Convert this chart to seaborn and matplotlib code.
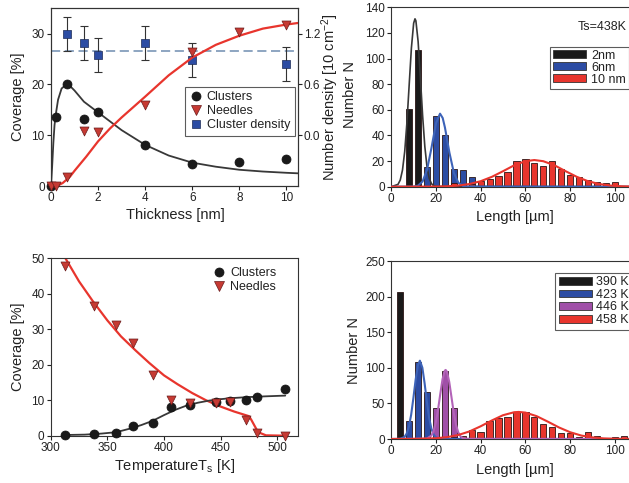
import matplotlib
matplotlib.use("Agg")
import matplotlib.pyplot as plt
import seaborn as sns
from matplotlib.patches import Patch
from matplotlib.lines import Line2D

# ---------------- coverage vs. thickness (top left) ----------------
thick_clusters = [0, 0.2, 0.7, 1.4, 2, 4, 6, 8, 10]
cov_clusters = [0, 13.6, 20.0, 13.1, 14.5, 8.1, 4.3, 4.8, 5.4]
thick_needles = [0, 0.2, 0.7, 1.4, 2, 4, 6, 8, 10]
cov_needles = [0, 0, 1.7, 10.8, 10.6, 16.0, 26.3, 30.3, 31.8]
thick_density = [0.7, 1.4, 2, 4, 6, 10]
density = [1.20, 1.09, 0.95, 1.09, 0.89, 0.84]
density_err = [0.20, 0.20, 0.20, 0.20, 0.20, 0.20]
density_mean = 1.0

fit_clusters_x = [0, 0.05, 0.1, 0.15, 0.2, 0.3, 0.45, 0.7, 1.0, 1.4, 2, 3, 4, 5, 6, 7, 8, 9, 10, 10.48]
fit_clusters_y = [0, 4.0, 8.5, 12.0, 14.0, 17.0, 19.2, 20.2, 18.8, 16.6, 14.5, 11.0, 8.1, 6.0, 4.6, 3.8, 3.2, 2.85, 2.6, 2.5]
fit_needles_x = [0.25, 0.5, 0.8, 1.0, 1.5, 2, 2.5, 3, 4, 5, 6, 7, 8, 9, 10, 10.48]
fit_needles_y = [0, 0.6, 1.8, 3.0, 5.8, 8.8, 11.3, 13.5, 17.6, 21.8, 25.3, 27.8, 29.6, 31.0, 31.8, 32.1]

# ---------------- length histograms, Ts = 438 K (top right) ----------------
bins_2nm = [8, 12]
counts_2nm = [61, 107]
bins_6nm = [16, 20, 24, 28, 32, 36]
counts_6nm = [15.6, 55.4, 40.4, 13.8, 13.0, 7.3]
bins_10nm = [28, 32, 36, 40, 44, 48, 52, 56, 60, 64, 68, 72, 76, 80, 84, 88, 92, 96, 100]
counts_10nm = [3.0, 2.0, 2.0, 4.7, 6.0, 8.4, 11.7, 20.0, 21.4, 18.8, 16.2, 20.0, 13.8, 9.1, 7.3, 5.2, 3.4, 3.1, 3.9]

gauss_2nm_x = [0, 3, 4, 5, 6, 7, 8, 9, 10, 10.6, 11, 12, 13, 14, 15, 16, 17, 18, 19, 20, 108]
gauss_2nm_y = [0, 1.8, 5.2, 12.9, 27.4, 50.2, 79.5, 108.4, 127.6, 131, 129.5, 113.3, 85.5, 55.7, 31.3, 15.1, 6.3, 2.3, 0.7, 0.2, 0]
gauss_6nm_x = [0, 10, 12, 14, 16, 18, 20, 21.8, 23, 24, 26, 28, 30, 32, 34, 108]
gauss_6nm_y = [0, 0.1, 0.9, 4.1, 13.3, 30.5, 49.5, 57, 53.6, 46.2, 26.6, 10.8, 3.1, 0.6, 0.1, 0]
gauss_10nm_x = [0, 20, 25, 30, 35, 40, 45, 50, 55, 60, 64, 68, 73, 78, 83, 88, 93, 98, 103, 108]
gauss_10nm_y = [0, 0.1, 0.3, 0.9, 2.1, 4.3, 7.7, 12.1, 16.7, 19.9, 20.8, 19.9, 16.7, 12.1, 7.7, 4.3, 2.1, 0.9, 0.3, 0.1]

# ---------------- coverage vs. temperature (bottom left) ----------------
temps = [313, 338, 358, 373, 390, 406, 423, 446, 458, 472, 482, 507]
cov_clusters_T = [0.3, 0.5, 0.8, 2.8, 3.7, 8.2, 8.6, 9.4, 9.9, 10.0, 10.9, 13.3]
cov_needles_T = [47.8, 36.5, 31.3, 26.0, 17.0, 10.1, 9.2, 9.2, 9.5, 4.4, 0.9, 0.0]

fit_clusters_T_x = [313, 330, 345, 358, 370, 380, 390, 400, 410, 420, 430, 440, 450, 460, 475, 490, 507]
fit_clusters_T_y = [0.2, 0.3, 0.6, 1.0, 2.0, 3.0, 4.2, 5.8, 7.3, 8.5, 9.3, 9.9, 10.3, 10.6, 10.9, 11.1, 11.3]
fit_needles_T_x = [313, 325, 337, 350, 362, 375, 387, 400, 412, 425, 437, 450, 462, 475, 477, 483, 490, 507]
fit_needles_T_y = [50, 43.5, 38.0, 32.5, 28.0, 24.0, 20.5, 17.0, 14.5, 12.0, 10.0, 8.2, 6.8, 5.5, 4.5, 1.0, 0.1, 0]

# ---------------- length histograms vs. temperature (bottom right) ----------------
bins_390 = [4]
counts_390 = [207]
bins_423 = [8, 12, 16]
counts_423 = [25.7, 107.7, 66.5]
bins_446 = [20, 24, 28, 32]
counts_446 = [43, 96, 43, 1.5]
bins_458 = [28, 32, 36, 40, 44, 48, 52, 56, 60, 64, 68, 72, 76, 80, 84, 88, 92, 96, 100, 104]
counts_458 = [3.0, 4.0, 12.6, 10.3, 25.7, 30.0, 30.4, 38.4, 37.5, 31.4, 21.0, 16.4, 8.0, 8.9, 2.3, 9.4, 4.2, 0.5, 2.8, 4.2]

gauss_423_x = [0, 4, 6, 7, 8, 9, 10, 11, 12, 12.9, 14, 15, 16, 17, 18, 19, 20, 22, 108]
gauss_423_y = [0, 0.2, 2.8, 7.6, 17.4, 34.1, 57.6, 83.3, 103.4, 110, 100.2, 78.4, 52.5, 30.1, 14.9, 6.3, 2.3, 0.2, 0]
gauss_446_x = [0, 16, 18, 19, 20, 21, 22, 23, 24, 24.4, 25, 26, 27, 28, 29, 30, 31, 32, 34, 108]
gauss_446_y = [0, 0.5, 4.7, 11.2, 23.1, 41.2, 63.3, 83.9, 95.9, 97, 94.4, 80.2, 58.8, 37.1, 20.2, 9.5, 3.8, 1.3, 0.1, 0]
gauss_458_x = [0, 10, 20, 25, 30, 35, 40, 45, 50, 55, 57, 60, 65, 70, 75, 80, 85, 90, 95, 100, 105, 108]
gauss_458_y = [0, 0.1, 1.0, 2.6, 5.6, 10.6, 17.8, 26.0, 33.4, 37.6, 38, 37.1, 32.1, 24.4, 16.2, 9.5, 4.8, 2.2, 0.8, 0.3, 0.1, 0]

# ---------------- style ----------------
sns.set_theme(style="ticks")
plt.rcParams["font.family"] = ["Liberation Sans", "DejaVu Sans"]
plt.rcParams["mathtext.fontset"] = "custom"
plt.rcParams["mathtext.rm"] = "Liberation Sans"
plt.rcParams["mathtext.it"] = "Liberation Sans:italic"
plt.rcParams["mathtext.default"] = "regular"
plt.rcParams["text.color"] = "#222222"
plt.rcParams["axes.labelcolor"] = "#222222"
plt.rcParams["xtick.color"] = "#222222"
plt.rcParams["ytick.color"] = "#222222"

W, H = 629, 483
fig = plt.figure(figsize=(W / 100, H / 100), dpi=100)


def box(l, t, r, b):
    return [l / W, 1 - b / H, (r - l) / W, (b - t) / H]


def fpt(x, y):
    return (x / W, 1 - y / H)


TICK = 8.5
LAB = 10.5
LEG = 9

C_BLACK = "#1a1a1a"
C_LINE_BLACK = "#383838"
C_RED = "#e8352d"
C_RED_MARK = "#c63a33"
C_BLUE = "#2c4ca3"
C_BLUE_LINE = "#3d63b8"
C_MAG = "#a04fa8"
C_MAG_LINE = "#b363b8"


def style_axes(ax, right=True):
    for side, sp in ax.spines.items():
        sp.set_linewidth(0.8)
        sp.set_color("#333333")
    ax.spines["right"].set_visible(right)
    ax.tick_params(direction="out", length=3, width=0.8, labelsize=TICK, pad=1.5)


# ---------------- top left ----------------
ax1 = fig.add_axes(box(51, 8.3, 297.7, 186))
sns.lineplot(x=fit_clusters_x, y=fit_clusters_y, ax=ax1, color=C_LINE_BLACK, lw=1.3, sort=False, estimator=None)
sns.lineplot(x=fit_needles_x, y=fit_needles_y, ax=ax1, color=C_RED, lw=1.6, sort=False, estimator=None)
sns.scatterplot(x=thick_clusters, y=cov_clusters, ax=ax1, marker="o", s=42, color=C_BLACK,
                edgecolor="#111111", linewidth=0.5, zorder=5, clip_on=False)
sns.scatterplot(x=thick_needles, y=cov_needles, ax=ax1, marker="v", s=42, color=C_RED_MARK,
                edgecolor="#6a1c1c", linewidth=0.5, zorder=5, clip_on=False)
ax1.set_xlim(0, 10.48)
ax1.set_ylim(0, 35)
ax1.set_xticks([0, 2, 4, 6, 8, 10])
ax1.set_yticks([0, 10, 20, 30])
style_axes(ax1)
ax1.set_xlabel("")
ax1.set_ylabel("")

ax1b = ax1.twinx()
ax1b.axhline(density_mean, color="#6f8db0", lw=1.1, ls=(0, (6, 3)), zorder=1)
ax1b.errorbar(thick_density, density, yerr=density_err, fmt="none", ecolor="#333333",
              elinewidth=0.8, capsize=3, capthick=0.8, zorder=3)
sns.scatterplot(x=thick_density, y=density, ax=ax1b, marker="s", s=28, color=C_BLUE,
                edgecolor="#1b2a55", linewidth=0.5, zorder=5)
ax1b.set_ylim(-0.6, 1.5)
ax1b.set_yticks([0.0, 0.6, 1.2])
ax1b.set_yticklabels(["0.0", "0.6", "1.2"])
style_axes(ax1b)
ax1b.spines["right"].set_visible(True)
ax1b.set_ylabel("")

leg1 = ax1.legend(
    handles=[
        Line2D([], [], ls="none", marker="o", ms=6.5, mfc=C_BLACK, mec="#111111", mew=0.5),
        Line2D([], [], ls="none", marker="v", ms=6.5, mfc=C_RED_MARK, mec="#6a1c1c", mew=0.5),
        Line2D([], [], ls="none", marker="s", ms=5.3, mfc=C_BLUE, mec="#1b2a55", mew=0.5),
    ],
    labels=["Clusters", "Needles", "Cluster density"],
    loc="upper right", bbox_to_anchor=fpt(294.5, 87), bbox_transform=fig.transFigure,
    frameon=True, fancybox=False, fontsize=LEG, handlelength=1.0, handletextpad=0.4,
    borderpad=0.35, labelspacing=0.15, borderaxespad=0,
)
leg1.get_frame().set_edgecolor("#333333")
leg1.get_frame().set_linewidth(0.8)
ax1.set_zorder(ax1b.get_zorder() + 1)
ax1.patch.set_visible(False)

fig.text(*fpt(18, 97), "Coverage [%]", rotation=90, ha="center", va="center", fontsize=LAB)
fig.text(*fpt(175, 215), "Thickness [nm]", ha="center", va="center", fontsize=LAB)
fig.text(*fpt(330, 97), "Number density [10 cm$^{-2}$]", rotation=90, ha="center", va="center", fontsize=LAB)

# ---------------- top right ----------------
ax2 = fig.add_axes(box(391.3, 7.3, 391.3 + 108 * 2.235, 186.7))
bar_kw = dict(width=2.8, edgecolor="#2a1515", linewidth=0.6)
ax2.bar(bins_2nm, counts_2nm, color=C_BLACK, zorder=2, **bar_kw)
ax2.bar(bins_6nm, counts_6nm, color=C_BLUE, zorder=2, **bar_kw)
ax2.bar(bins_10nm, counts_10nm, color=C_RED, zorder=3, **bar_kw)
sns.lineplot(x=gauss_2nm_x, y=gauss_2nm_y, ax=ax2, color=C_LINE_BLACK, lw=1.2, sort=False, estimator=None, zorder=4)
sns.lineplot(x=gauss_6nm_x, y=gauss_6nm_y, ax=ax2, color=C_BLUE_LINE, lw=1.5, sort=False, estimator=None, zorder=4)
sns.lineplot(x=gauss_10nm_x, y=gauss_10nm_y, ax=ax2, color=C_RED, lw=1.5, sort=False, estimator=None, zorder=5)
ax2.set_xlim(0, 108)
ax2.set_ylim(0, 140)
ax2.set_xticks([0, 20, 40, 60, 80, 100])
ax2.set_yticks(range(0, 141, 20))
style_axes(ax2, right=False)
ax2.set_xlabel("")
ax2.set_ylabel("")
leg2 = ax2.legend(
    handles=[Patch(facecolor=C_BLACK, edgecolor="#333333", lw=0.6),
             Patch(facecolor=C_BLUE, edgecolor="#333333", lw=0.6),
             Patch(facecolor=C_RED, edgecolor="#333333", lw=0.6)],
    labels=["2nm", "6nm", "10 nm"],
    loc="upper right", bbox_to_anchor=fpt(628.8, 46.5), bbox_transform=fig.transFigure,
    frameon=True, fancybox=False, fontsize=LEG, handlelength=2.6, handleheight=0.6,
    handletextpad=0.4, borderpad=0.25, labelspacing=0.0, borderaxespad=0,
)
leg2.get_frame().set_edgecolor("#333333")
leg2.get_frame().set_linewidth(0.8)
fig.text(*fpt(627, 27), "Ts=438K", ha="right", va="center", fontsize=LEG)
fig.text(*fpt(350, 95), "Number N", rotation=90, ha="center", va="center", fontsize=LAB)
fig.text(*fpt(515, 217), "Length [\u00b5m]", ha="center", va="center", fontsize=LAB)

# ---------------- bottom left ----------------
ax3 = fig.add_axes(box(50.7, 258.3, 297.7, 435.7))
sns.lineplot(x=fit_needles_T_x, y=fit_needles_T_y, ax=ax3, color=C_RED, lw=1.6, sort=False, estimator=None)
sns.lineplot(x=fit_clusters_T_x, y=fit_clusters_T_y, ax=ax3, color=C_LINE_BLACK, lw=1.3, sort=False, estimator=None)
sns.scatterplot(x=temps, y=cov_clusters_T, ax=ax3, marker="o", s=42, color=C_BLACK,
                edgecolor="#111111", linewidth=0.5, zorder=5, clip_on=False)
sns.scatterplot(x=temps, y=cov_needles_T, ax=ax3, marker="v", s=42, color=C_RED_MARK,
                edgecolor="#6a1c1c", linewidth=0.5, zorder=6, clip_on=False)
ax3.set_xlim(300, 518)
ax3.set_ylim(0, 50)
ax3.set_xticks([300, 350, 400, 450, 500])
ax3.set_yticks(range(0, 51, 10))
style_axes(ax3)
ax3.set_xlabel("")
ax3.set_ylabel("")
ax3.legend(
    handles=[
        Line2D([], [], ls="none", marker="o", ms=6.5, mfc=C_BLACK, mec="#111111", mew=0.5),
        Line2D([], [], ls="none", marker="v", ms=6.5, mfc=C_RED_MARK, mec="#6a1c1c", mew=0.5),
    ],
    labels=["Clusters", "Needles"],
    loc="upper right", bbox_to_anchor=fpt(279, 265), bbox_transform=fig.transFigure,
    frameon=False, fontsize=LEG, handlelength=1.0, handletextpad=0.4,
    borderpad=0.2, labelspacing=0.15, borderaxespad=0,
)
fig.text(*fpt(18, 347), "Coverage [%]", rotation=90, ha="center", va="center", fontsize=LAB)
fig.text(*fpt(175, 466), "TemperatureT$_s$ [K]", ha="center", va="center", fontsize=LAB)

# ---------------- bottom right ----------------
ax4 = fig.add_axes(box(391, 261, 391 + 108 * 2.24, 439))
ax4.bar(bins_390, counts_390, color=C_BLACK, zorder=2, **bar_kw)
ax4.bar(bins_423, counts_423, color=C_BLUE, zorder=2, **bar_kw)
ax4.bar(bins_446, counts_446, color=C_MAG, zorder=2, **bar_kw)
ax4.bar(bins_458, counts_458, color=C_RED, zorder=3, **bar_kw)
sns.lineplot(x=gauss_423_x, y=gauss_423_y, ax=ax4, color=C_BLUE_LINE, lw=1.5, sort=False, estimator=None, zorder=4)
sns.lineplot(x=gauss_446_x, y=gauss_446_y, ax=ax4, color=C_MAG_LINE, lw=1.5, sort=False, estimator=None, zorder=4)
sns.lineplot(x=gauss_458_x, y=gauss_458_y, ax=ax4, color=C_RED, lw=1.5, sort=False, estimator=None, zorder=5)
ax4.set_xlim(0, 108)
ax4.set_ylim(0, 250)
ax4.set_xticks([0, 20, 40, 60, 80, 100])
ax4.set_yticks(range(0, 251, 50))
style_axes(ax4, right=False)
ax4.set_xlabel("")
ax4.set_ylabel("")
leg4 = ax4.legend(
    handles=[Patch(facecolor=C_BLACK, edgecolor="#333333", lw=0.6),
             Patch(facecolor=C_BLUE, edgecolor="#333333", lw=0.6),
             Patch(facecolor=C_MAG, edgecolor="#333333", lw=0.6),
             Patch(facecolor=C_RED, edgecolor="#333333", lw=0.6)],
    labels=["390 K", "423 K", "446 K", "458 K"],
    loc="upper right", bbox_to_anchor=fpt(633, 272.5), bbox_transform=fig.transFigure,
    frameon=True, fancybox=False, fontsize=LEG, handlelength=2.6, handleheight=0.6,
    handletextpad=0.4, borderpad=0.3, labelspacing=0.05, borderaxespad=0,
)
leg4.get_frame().set_edgecolor("#333333")
leg4.get_frame().set_linewidth(0.8)
fig.text(*fpt(354, 350), "Number N", rotation=90, ha="center", va="center", fontsize=LAB)
fig.text(*fpt(515, 470), "Length [\u00b5m]", ha="center", va="center", fontsize=LAB)

fig.savefig("out.png", dpi=100, facecolor="white")
